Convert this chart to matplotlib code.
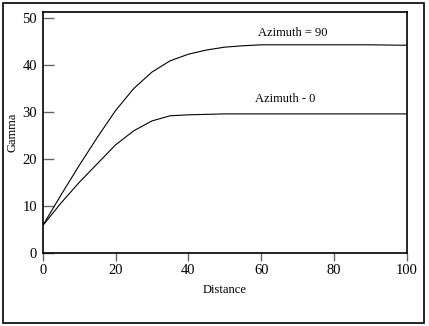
import matplotlib
matplotlib.use('Agg')
import matplotlib.pyplot as plt
from matplotlib.patches import Rectangle

# Variogram curves read along distance
dist_90 = [0, 5, 10, 15, 20, 25, 30, 35, 40, 45, 50, 55, 60, 70, 80, 90, 100]
gamma_90 = [5.8, 12.3, 18.6, 24.6, 30.3, 35.0, 38.5, 40.9, 42.3, 43.2, 43.8, 44.1, 44.3, 44.3, 44.3, 44.3, 44.2]

dist_0 = [0, 5, 10, 15, 20, 25, 30, 35, 40, 50, 60, 80, 100]
gamma_0 = [5.8, 10.6, 15.0, 19.0, 23.0, 26.0, 28.1, 29.2, 29.4, 29.6, 29.6, 29.6, 29.6]

x_ticks = [0, 20, 40, 60, 80, 100]
y_ticks = [0, 10, 20, 30, 40, 50]

plt.rcParams['font.family'] = ['Liberation Serif', 'DejaVu Serif']
plt.rcParams['font.size'] = 9

fig = plt.figure(figsize=(4.29, 3.26), dpi=100)
ax = fig.add_axes([0.0995, 0.224, 0.849, 0.738])

ax.plot(dist_90, gamma_90, color='black', lw=0.8)
ax.plot(dist_0, gamma_0, color='black', lw=0.8)

ax.text(68.6, 46.9, 'Azimuth = 90', ha='center', va='center')
ax.text(66.5, 32.8, 'Azimuth - 0', ha='center', va='center')

ax.set_xlim(0, 100)
ax.set_ylim(0, 51.2)
ax.set_xticks(x_ticks)
ax.set_yticks(y_ticks)
ax.tick_params(axis='x', direction='out', length=6, width=1, color='#666666', pad=2,
               labelsize=10.5)
ax.tick_params(axis='y', direction='in', length=8, width=1, color='#666666', pad=4,
               labelsize=10.5)
for s in ax.spines.values():
    s.set_linewidth(1.2)

ax.set_xlabel('Distance', labelpad=5)
ax.set_ylabel('Gamma', labelpad=3)

# Frame around the whole figure
fig.patches.append(Rectangle((0.0063, 0.008), 0.983, 0.984, transform=fig.transFigure,
                             fill=False, edgecolor='black', lw=1.2))

fig.savefig('out.png', dpi=100)
